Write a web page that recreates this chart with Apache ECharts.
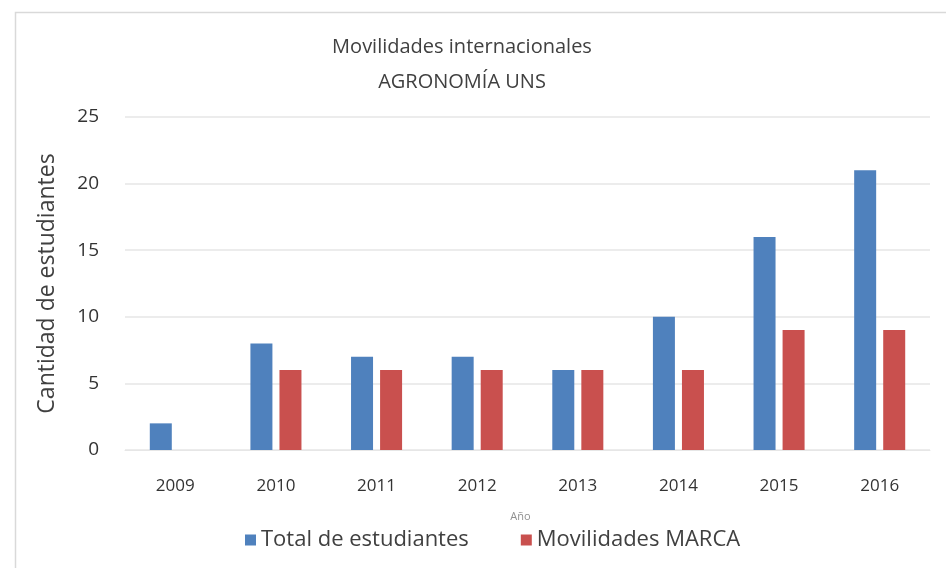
<!DOCTYPE html>
<html><head><meta charset="utf-8">
<script src="https://cdn.jsdelivr.net/npm/echarts@6/dist/echarts.min.js"></script>
<style>html,body{margin:0;padding:0;background:#fff}#c{width:946px;height:568px}</style>
</head><body><div id="c"></div>
<script>
const categories = ['2009','2010','2011','2012','2013','2014','2015','2016'];
const totalEstudiantes = [2, 8, 7, 7, 6, 10, 16, 21];
const movilidadesMarca = [null, 6, 6, 6, 6, 6, 9, 9];
const yTicks = [0, 5, 10, 15, 20, 25];

const chart = echarts.init(document.getElementById('c'));
const font = "'Open Sans', 'Liberation Sans', sans-serif";
chart.setOption({
  animation: false,
  backgroundColor: '#fff',
  graphic: [{
    type: 'rect', shape: {x: 15.5, y: 12.5, width: 960, height: 600},
    style: {fill: 'none', stroke: '#d9d9d9', lineWidth: 1.5}, silent: true, z: -1
  }],
  title: {
    text: 'Movilidades internacionales\nAGRONOMÍA UNS',
    left: 457, top: 25, textAlign: 'center',
    textStyle: {fontFamily: font, fontSize: 20, fontWeight: 'normal', color: '#404040', lineHeight: 35}
  },
  legend: {
    bottom: 12, left: 240,
    itemWidth: 11, itemHeight: 11, itemGap: 52, icon: 'rect',
    textStyle: {fontFamily: font, fontSize: 22, color: '#404040'},
    data: ['Total de estudiantes', 'Movilidades MARCA']
  },
  grid: {left: 125, right: 16, top: 117, bottom: 118},
  xAxis: {
    type: 'category', data: categories,
    name: 'Año', nameLocation: 'middle', nameGap: 61,
    nameTextStyle: {fontFamily: font, fontSize: 11, color: '#909090', padding: [0, 14, 0, 0]},
    axisLine: {show: true, lineStyle: {color: '#e6e6e6'}},
    axisTick: {show: false},
    axisLabel: {fontFamily: font, fontSize: 17, color: '#333333', margin: 28}
  },
  yAxis: {
    type: 'value', min: 0, max: 25, interval: 5,
    name: 'Cantidad de estudiantes', nameLocation: 'middle', nameGap: 66,
    nameTextStyle: {fontFamily: font, fontSize: 23, color: '#404040'},
    axisLine: {show: false}, axisTick: {show: false},
    axisLabel: {fontFamily: font, fontSize: 19, color: '#333333', margin: 26,
      formatter: v => yTicks.includes(v) ? String(v) : ''},
    splitLine: {lineStyle: {color: '#e6e6e6', width: 1.5}}
  },
  series: [
    {name: 'Total de estudiantes', type: 'bar', data: totalEstudiantes, barWidth: 22, barGap: '32%',
     itemStyle: {color: '#4F81BD'}},
    {name: 'Movilidades MARCA', type: 'bar', data: movilidadesMarca, barWidth: 22,
     itemStyle: {color: '#C9504E'}}
  ]
});
</script></body></html>
